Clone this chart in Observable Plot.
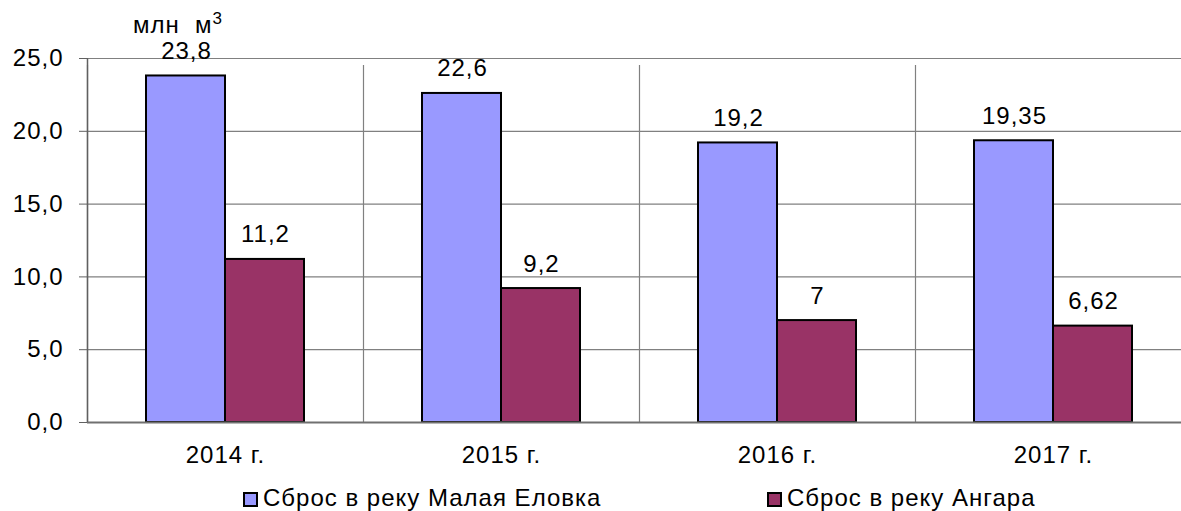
<!DOCTYPE html>
<html>
<head>
<meta charset="utf-8">
<script src="https://cdn.jsdelivr.net/npm/d3@7"></script>
<script src="https://cdn.jsdelivr.net/npm/@observablehq/plot@0.6"></script>
<style>
  html, body { margin: 0; padding: 0; background: #fff; }
  body { width: 1181px; height: 511px; position: relative; overflow: hidden; font-family: "Liberation Sans", Arial, sans-serif; }
  #unit { position: absolute; left: 133px; top: 11px; font-size: 24px; letter-spacing: 1px; color: #000; }
  #unit sup { font-size: 17px; vertical-align: 0; position: relative; top: -9px; }
  #legend { position: absolute; top: 487px; left: 0; width: 1181px; height: 22px; font-size: 24px; line-height: 22px; letter-spacing: 1px; color: #000; }
  .item { position: absolute; top: 0; height: 22px; display: flex; align-items: center; white-space: nowrap; }
  .sw { width: 11px; height: 11px; border: 2px solid #000; margin-right: 5px; box-sizing: content-box; position: relative; top: 1px; }
  svg text { letter-spacing: 1px; }
</style>
</head>
<body>
<div id="chart"></div>
<div id="unit">млн&nbsp; м<sup>3</sup></div>
<div id="legend"></div>
<script>
const years = ["2014 г.", "2015 г.", "2016 г.", "2017 г."];
const seriesNames = ["Сброс в реку Малая Еловка", "Сброс в реку Ангара"];
const elovka = [23.8, 22.6, 19.2, 19.35];
const angara = [11.2, 9.2, 7, 6.62];
const colors = ["#9999FF", "#993366"];
const yTicks = [0, 5, 10, 15, 20, 25];

const data = [];
years.forEach((y, i) => {
  data.push({year: y, series: seriesNames[0], value: elovka[i]});
  data.push({year: y, series: seriesNames[1], value: angara[i]});
});
const s0 = data.filter(d => d.series === seriesNames[0]);
const s1 = data.filter(d => d.series === seriesNames[1]);
const fmt = v => String(v).replace(".", ",");

const chart = Plot.plot({
  width: 1181,
  height: 470,
  marginLeft: 87,
  marginTop: 58,
  marginBottom: 48,
  marginRight: 0,
  style: {fontFamily: "'Liberation Sans', Arial, sans-serif", fontSize: "24px", color: "#000", background: "#fff"},
  x: {domain: years, range: [87, 1191], padding: 0, label: null},
  y: {domain: [0, 25], label: null},
  marks: [
    Plot.ruleY(yTicks.filter(t => t > 0), {y: d => d, stroke: "#808080", strokeWidth: 1.2}),
    Plot.ruleX(years, {x: d => d, dx: -138, y1: 0, y2: 25, stroke: "#808080", strokeWidth: 1.2, insetBottom: -7}),
    Plot.barY(s0, {x: "year", y: "value", fill: colors[0], stroke: "#000", strokeWidth: 2, insetLeft: 59, insetRight: 138}),
    Plot.barY(s1, {x: "year", y: "value", fill: colors[1], stroke: "#000", strokeWidth: 2, insetLeft: 138, insetRight: 59}),
    Plot.ruleY([0], {stroke: "#707070", strokeWidth: 2}),
    Plot.ruleX([0], {x: () => years[0], dx: -138, y1: 0, y2: 25, stroke: "#606060", strokeWidth: 1.5}),
    Plot.text(s0, {x: "year", y: "value", text: d => fmt(d.value), dx: -39, dy: -17, lineAnchor: "bottom", fill: "#000", fontSize: 24}),
    Plot.text(s1, {x: "year", y: "value", text: d => fmt(d.value), dx: 40, dy: -17, lineAnchor: "bottom", fill: "#000", fontSize: 24}),
    Plot.axisY({ticks: yTicks, tickFormat: d => d3.format(".1f")(d).replace(".", ","), tickSize: 8, tickPadding: 16, stroke: "#606060", fontSize: 24}),
    Plot.axisX({tickSize: 0, tickPadding: 23, fontSize: 24})
  ]
});
document.getElementById("chart").appendChild(chart);

const legend = document.getElementById("legend");
const lefts = [243, 767];
seriesNames.forEach((name, i) => {
  const it = document.createElement("div");
  it.className = "item";
  it.style.left = lefts[i] + "px";
  it.innerHTML = `<span class="sw" style="background:${colors[i]}"></span><span>${name}</span>`;
  legend.appendChild(it);
});
</script>
</body>
</html>
